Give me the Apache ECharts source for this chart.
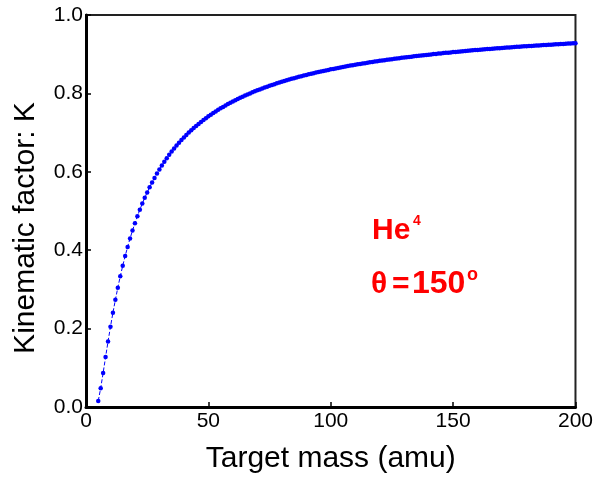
<!DOCTYPE html>
<html>
<head>
<meta charset="utf-8">
<script src="https://cdn.jsdelivr.net/npm/echarts@6/dist/echarts.min.js"></script>
<style>html,body{margin:0;padding:0;background:#fff}#c{width:596px;height:479px}</style>
</head>
<body>
<div id="c"></div>
<script>
var masses = [5,6,7,8,9,10,11,12,13,14,15,16,17,18,19,20,21,22,23,24,25,26,27,28,29,30,
31,32,33,34,35,36,37,38,39,40,41,42,43,44,45,46,47,48,49,50,
51,52,53,54,55,56,57,58,59,60,61,62,63,64,65,66,67,68,69,70,
71,72,73,74,75,76,77,78,79,80,81,82,83,84,85,86,87,88,89,90,
91,92,93,94,95,96,97,98,99,100,101,102,103,104,105,106,107,108,109,110,
111,112,113,114,115,116,117,118,119,120,121,122,123,124,125,126,127,128,129,130,
131,132,133,134,135,136,137,138,139,140,141,142,143,144,145,146,147,148,149,150,
151,152,153,154,155,156,157,158,159,160,161,162,163,164,165,166,167,168,169,170,
171,172,173,174,175,176,177,178,179,180,181,182,183,184,185,186,187,188,189,190,
191,192,193,194,195,196,197,198,199,200];
var kfactor = [0.0155,0.0481,0.0870,0.1273,0.1669,0.2047,0.2403,0.2735,0.3045,0.3333,
0.3601,0.3850,0.4083,0.4299,0.4501,0.4690,0.4867,0.5033,0.5189,0.5335,
0.5474,0.5605,0.5728,0.5845,0.5956,0.6061,0.6161,0.6256,0.6346,0.6433,
0.6515,0.6594,0.6669,0.6741,0.6810,0.6876,0.6940,0.7001,0.7059,0.7116,
0.7170,0.7222,0.7273,0.7322,0.7369,0.7414,
0.7458,0.7500,0.7541,0.7581,0.7619,0.7656,0.7692,0.7728,0.7761,0.7794,
0.7826,0.7857,0.7888,0.7917,0.7946,0.7973,0.8000,0.8027,0.8052,0.8078,
0.8102,0.8126,0.8149,0.8171,0.8194,0.8215,0.8236,0.8257,0.8277,0.8296,
0.8316,0.8334,0.8353,0.8371,0.8388,0.8405,0.8422,0.8439,0.8455,0.8471,
0.8486,0.8501,0.8516,0.8531,0.8545,0.8559,0.8573,0.8586,0.8600,0.8613,
0.8625,0.8638,0.8650,0.8662,0.8674,0.8686,0.8697,0.8709,0.8720,0.8730,
0.8741,0.8752,0.8762,0.8772,0.8782,0.8792,0.8802,0.8811,0.8821,0.8830,
0.8839,0.8848,0.8857,0.8865,0.8874,0.8882,0.8891,0.8899,0.8907,0.8915,
0.8923,0.8930,0.8938,0.8946,0.8953,0.8960,0.8967,0.8974,0.8981,0.8988,
0.8995,0.9002,0.9008,0.9015,0.9021,0.9028,0.9034,0.9040,0.9046,0.9053,
0.9058,0.9064,0.9070,0.9076,0.9082,0.9087,0.9093,0.9098,0.9104,0.9109,
0.9114,0.9120,0.9125,0.9130,0.9135,0.9140,0.9145,0.9150,0.9154,0.9159,
0.9164,0.9169,0.9173,0.9178,0.9182,0.9187,0.9191,0.9195,0.9200,0.9204,
0.9208,0.9212,0.9217,0.9221,0.9225,0.9229,0.9233,0.9237,0.9240,0.9244,
0.9248,0.9252,0.9256,0.9259,0.9263,0.9267,0.9270,0.9274,0.9277,0.9281];
var xTicks = [0, 50, 100, 150, 200];
var yTicks = [0.0, 0.2, 0.4, 0.6, 0.8, 1.0];

var seriesData = masses.map(function (m, i) { return [m, kfactor[i]]; });
var FONT = '"Liberation Sans", Arial, sans-serif';

var chart = echarts.init(document.getElementById('c'), null, {renderer: 'canvas'});
chart.setOption({
  animation: false,
  backgroundColor: '#ffffff',
  grid: {left: 86, right: 20, top: 15, bottom: 71, containLabel: false,
    show: true, borderColor: '#222', borderWidth: 2, backgroundColor: 'transparent'},
  xAxis: [{
    type: 'value', min: 0, max: 200, interval: 50, position: 'bottom',
    name: 'Target mass (amu)', nameLocation: 'middle', nameGap: 37,
    nameTextStyle: {fontFamily: FONT, fontSize: 30, color: '#000'},
    axisLine: {show: true, onZero: false, lineStyle: {color: '#000', width: 3}},
    axisTick: {show: true, inside: true, length: 5, lineStyle: {color: '#000', width: 1.5}},
    axisLabel: {fontFamily: FONT, fontSize: 21, color: '#000', margin: 4,
      formatter: function (v) { return xTicks.indexOf(v) >= 0 ? String(v) : ''; }},
    splitLine: {show: false}
  }],
  yAxis: [{
    type: 'value', min: 0, max: 1, interval: 0.2, position: 'left',
    axisLine: {show: true, onZero: false, lineStyle: {color: '#000', width: 3}},
    axisTick: {show: true, inside: true, length: 5, lineStyle: {color: '#000', width: 1.5}},
    axisLabel: {fontFamily: FONT, fontSize: 21, color: '#000', margin: 3,
      formatter: function (v) { return v.toFixed(1); }},
    splitLine: {show: false}
  }],
  series: [{
    type: 'line',
    data: seriesData,
    xAxisIndex: 0, yAxisIndex: 0,
    symbol: 'circle', symbolSize: 4.5, showSymbol: true, showAllSymbol: true,
    itemStyle: {color: '#0000ff'},
    lineStyle: {color: '#0000ff', width: 1, type: 'dashed'},
    silent: true
  }],
  graphic: [
    {type: 'text', x: 26, y: 228, rotation: Math.PI / 2,
      style: {text: 'Kinematic factor: K', fill: '#000', font: '30px ' + FONT, align: 'center', verticalAlign: 'middle'}},
    {type: 'text', x: 372, y: 231, style: {text: 'He', fill: '#ff0000', font: 'bold 30px ' + FONT, align: 'left', verticalAlign: 'middle'}},
    {type: 'text', x: 413, y: 221.5, style: {text: '4', fill: '#ff0000', font: 'bold 14px ' + FONT, align: 'left', verticalAlign: 'middle'}},
    {type: 'text', x: 371, y: 284.5, style: {text: 'θ', fill: '#ff0000', font: 'bold 30px ' + FONT, align: 'left', verticalAlign: 'middle'}},
    {type: 'text', x: 392, y: 284.5, style: {text: '=', fill: '#ff0000', font: 'bold 30px ' + FONT, align: 'left', verticalAlign: 'middle'}},
    {type: 'text', x: 412, y: 284, style: {text: '150', fill: '#ff0000', font: 'bold 32px ' + FONT, align: 'left', verticalAlign: 'middle'}},
    {type: 'text', x: 467, y: 275, style: {text: 'o', fill: '#ff0000', font: 'bold 18px ' + FONT, align: 'left', verticalAlign: 'middle'}}
  ]
});
</script>
</body>
</html>
